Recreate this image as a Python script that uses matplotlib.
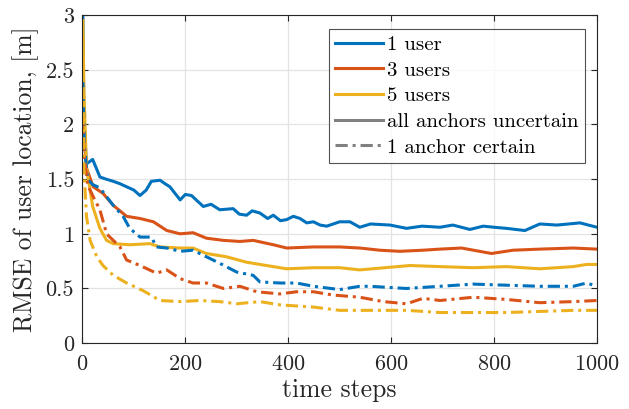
import matplotlib
matplotlib.use("Agg")
import matplotlib.pyplot as plt
from matplotlib.lines import Line2D

plt.rcParams['font.family'] = ['cmr10', 'DejaVu Serif']
plt.rcParams['mathtext.fontset'] = 'cm'
plt.rcParams['axes.formatter.use_mathtext'] = True

# ---- data ----
t_blue = [1, 3, 8, 20, 34, 46, 60, 72, 86, 100, 112, 124, 134, 151, 160, 170, 190, 200, 212, 235, 250, 267, 293, 305, 319,
          330, 345, 360, 371, 385, 397, 410, 423, 436, 449, 462, 475, 500, 520, 539, 560, 598, 630, 660, 695, 720,
          753, 779, 800, 824, 860, 889, 922, 945, 967, 1000]
v_blue = [3.0, 2.0, 1.64, 1.68, 1.52, 1.50, 1.48, 1.46, 1.43, 1.40, 1.35, 1.40, 1.48, 1.49, 1.46, 1.43, 1.31, 1.36, 1.35, 1.25, 1.27, 1.22, 1.23, 1.18, 1.17,
          1.21, 1.19, 1.14, 1.17, 1.12, 1.13, 1.16, 1.14, 1.10, 1.11, 1.08, 1.07, 1.11, 1.11, 1.06, 1.09, 1.08, 1.05, 1.07, 1.06, 1.08,
          1.04, 1.07, 1.06, 1.05, 1.03, 1.09, 1.08, 1.09, 1.10, 1.06]

t_red = [1, 3, 8, 21, 40, 60, 86, 112, 138, 164, 190, 215, 241, 274, 306, 332, 371, 397, 449, 500,
         539, 578, 617, 662, 695, 737, 795, 837, 889, 954, 1000]
v_red = [2.2, 1.9, 1.6, 1.43, 1.37, 1.26, 1.16, 1.14, 1.11, 1.03, 1.00, 1.01, 0.96, 0.94, 0.93, 0.94, 0.90, 0.87, 0.88, 0.88,
         0.87, 0.85, 0.84, 0.85, 0.86, 0.87, 0.82, 0.85, 0.86, 0.87, 0.86]

t_yel = [1, 3, 8, 20, 34, 47, 60, 92, 131, 151, 190, 215, 241, 280, 319, 358, 397, 449, 500,
         539, 637, 695, 760, 824, 889, 954, 980, 1000]
v_yel = [2.95, 2.3, 1.6, 1.25, 1.05, 0.94, 0.91, 0.90, 0.91, 0.88, 0.87, 0.87, 0.82, 0.79, 0.74, 0.71, 0.68, 0.69, 0.69,
         0.67, 0.71, 0.70, 0.69, 0.70, 0.68, 0.70, 0.72, 0.72]

t_blue_c = [1, 4, 10, 20, 34, 47, 60, 79, 92, 112, 134, 144, 164, 190, 215, 241, 267, 300, 332, 345, 384, 416,
            449, 500, 539, 559, 630, 695, 760, 824, 889, 954, 980, 1000]
v_blue_c = [2.4, 1.8, 1.5, 1.45, 1.42, 1.34, 1.26, 1.16, 1.05, 0.97, 0.97, 0.88, 0.87, 0.84, 0.85, 0.79, 0.73, 0.65, 0.62, 0.56, 0.55, 0.55,
            0.52, 0.49, 0.52, 0.52, 0.50, 0.52, 0.54, 0.53, 0.52, 0.52, 0.55, 0.52]

t_red_c = [1, 4, 10, 21, 34, 47, 60, 73, 86, 112, 144, 164, 190, 215, 241, 274, 306, 339, 384, 416, 449, 487,
           539, 585, 630, 662, 695, 760, 824, 889, 954, 1000]
v_red_c = [2.1, 1.7, 1.45, 1.34, 1.22, 1.00, 0.94, 0.88, 0.76, 0.71, 0.64, 0.67, 0.59, 0.55, 0.55, 0.50, 0.52, 0.47, 0.45, 0.47, 0.47, 0.44,
           0.42, 0.38, 0.36, 0.41, 0.39, 0.42, 0.40, 0.37, 0.38, 0.39]

t_yel_c = [1, 3, 8, 15, 28, 40, 60, 86, 118, 151, 190, 228, 267, 300, 345, 384, 449, 500, 565, 630, 695, 760,
           824, 889, 954, 1000]
v_yel_c = [2.8, 1.6, 1.16, 0.94, 0.79, 0.71, 0.62, 0.55, 0.48, 0.39, 0.38, 0.39, 0.38, 0.36, 0.38, 0.35, 0.33, 0.30, 0.30, 0.30, 0.28, 0.28,
           0.28, 0.29, 0.30, 0.30]

legend_labels = ['1 user', '3 users', '5 users', 'all anchors uncertain', '1 anchor certain']
x_ticks = [0, 200, 400, 600, 800, 1000]
y_ticks = [0, 0.5, 1, 1.5, 2, 2.5, 3]
y_tick_labels = ['0', '0.5', '1', '1.5', '2', '2.5', '3']

C_BLUE, C_RED, C_YEL, C_GRAY = '#0072BD', '#D95319', '#EDB120', '#808080'
DASHDOT = (0, (4.0, 1.6, 1.0, 1.6))
LW = 2.2

fig = plt.figure(figsize=(6.29, 4.09), dpi=100)
ax = fig.add_axes([0.131, 0.161, 0.818, 0.802])

ax.plot(t_blue, v_blue, color=C_BLUE, lw=LW)
ax.plot(t_red, v_red, color=C_RED, lw=LW)
ax.plot(t_yel, v_yel, color=C_YEL, lw=LW)
ax.plot(t_blue_c, v_blue_c, color=C_BLUE, lw=LW, linestyle=DASHDOT)
ax.plot(t_red_c, v_red_c, color=C_RED, lw=LW, linestyle=DASHDOT)
ax.plot(t_yel_c, v_yel_c, color=C_YEL, lw=LW, linestyle=DASHDOT)

ax.set_xlim(0, 1000)
ax.set_ylim(0, 3)
ax.set_xticks(x_ticks)
ax.set_yticks(y_ticks)
ax.set_yticklabels(y_tick_labels)
ax.grid(True, color='#e3e3e3', lw=0.9)
ax.set_axisbelow(True)
ax.tick_params(direction='in', top=True, right=True, length=4, width=0.8,
               colors='#262626', labelsize=16, labelcolor='#262626')
ax.tick_params(axis='x', pad=8)
ax.tick_params(axis='y', pad=6)
for s in ax.spines.values():
    s.set_color('#262626')
    s.set_linewidth(0.8)

ax.set_xlabel('time steps', fontsize=18.5, color='#262626', labelpad=3)
ax.set_ylabel('RMSE of user location, [m]', fontsize=18.5, color='#262626', labelpad=5)

handles = [Line2D([], [], color=C_BLUE, lw=LW),
           Line2D([], [], color=C_RED, lw=LW),
           Line2D([], [], color=C_YEL, lw=LW),
           Line2D([], [], color=C_GRAY, lw=LW),
           Line2D([], [], color=C_GRAY, lw=LW, linestyle=DASHDOT)]
leg = ax.legend(handles, legend_labels, loc='upper right', bbox_to_anchor=(0.977, 0.957),
                fontsize=15, frameon=True, fancybox=False, edgecolor='#262626',
                handlelength=2.3, handletextpad=0.2, labelspacing=0.34, borderpad=0.3,
                borderaxespad=0)
leg.get_frame().set_linewidth(0.8)

fig.savefig('out.png', dpi=100)
